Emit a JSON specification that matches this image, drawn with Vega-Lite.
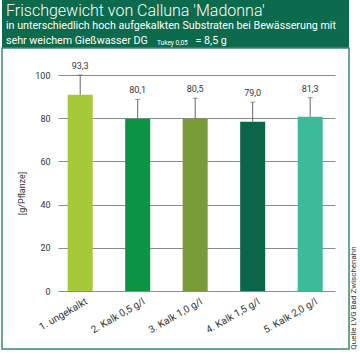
{
  "$schema": "https://vega.github.io/schema/vega-lite/v6.json",
  "padding": {"left": 1, "top": 0, "right": 0, "bottom": 0},
  "background": "white",
  "spacing": 0,
  "bounds": "flush",
  "config": {"font": "Roboto", "view": {"stroke": null}},
  "title": {
    "text": "Quelle LVG Bad Zwischenahn",
    "orient": "right",
    "anchor": "end",
    "align": "left",
    "baseline": "top",
    "angle": -90,
    "offset": -8,
    "fontSize": 8,
    "fontWeight": "normal",
    "color": "#333333"
  },
  "datasets": {
    "bars": [
      {"cat": "1. ungekalkt", "value": 90.8, "top": 100.0, "label": "93,3"},
      {"cat": "2. Kalk 0,5 g/l", "value": 79.8, "top": 88.7, "label": "80,1"},
      {"cat": "3. Kalk 1,0 g/l", "value": 79.8, "top": 89.2, "label": "80,5"},
      {"cat": "4. Kalk 1,5 g/l", "value": 78.4, "top": 87.4, "label": "79,0"},
      {"cat": "5. Kalk 2,0 g/l", "value": 80.7, "top": 89.5, "label": "81,3"}
    ]
  },
  "vconcat": [
    {
      "width": 347,
      "height": 48,
      "view": {"fill": "#0c6b4c", "stroke": null},
      "title": {
        "text": "Frischgewicht von Calluna 'Madonna'",
        "subtitle": [
          "in unterschiedlich hoch aufgekalkten Substraten bei Bewässerung mit",
          "sehr weichem Gießwasser DG\u00a0\u00a0\u00a0\u00a0\u00a0\u00a0\u00a0\u00a0\u00a0\u00a0\u00a0\u00a0\u00a0\u00a0\u00a0\u00a0\u00a0 = 8,5 g"
        ],
        "orient": "top",
        "anchor": "start",
        "frame": "group",
        "offset": -46,
        "dx": 4,
        "color": "white",
        "font": "Roboto",
        "fontSize": 16,
        "fontWeight": 300,
        "subtitleColor": "white",
        "subtitleFont": "Roboto",
        "subtitleFontSize": 10.7,
        "subtitlePadding": 2,
        "subtitleLineHeight": 15
      },
      "data": {"values": [{"t": ""}]},
      "mark": "text",
      "encoding": {"text": {"field": "t"}}
    },
    {
      "width": 347,
      "height": 301,
      "view": {"fill": "white", "stroke": "#3a8a68", "strokeWidth": 1.5},
      "title": {
        "text": "Tukey 0,05",
        "orient": "top",
        "anchor": "start",
        "frame": "group",
        "offset": 2,
        "dx": 155,
        "color": "white",
        "fontSize": 6.5,
        "fontWeight": "normal"
      },
      "data": {"name": "bars"},
      "encoding": {
        "x": {
          "field": "cat",
          "type": "nominal",
          "sort": null,
          "scale": {"paddingInner": 0.565, "paddingOuter": 0.8, "align": 0.714},
          "axis": {
            "title": null,
            "offset": -58,
            "domain": false,
            "ticks": false,
            "labelAngle": -30,
            "labelPadding": 5,
            "labelOffset": 4,
            "labelFontSize": 10,
            "labelColor": "#333333"
          }
        }
      },
      "layer": [
        {
          "mark": {"type": "rule", "color": "#666666", "strokeWidth": 1},
          "encoding": {
            "y": {"field": "value", "type": "quantitative"},
            "y2": {"field": "top"}
          }
        },
        {
          "mark": {"type": "tick", "color": "#666666", "thickness": 1, "size": 5},
          "encoding": {
            "y": {"field": "top", "type": "quantitative"}
          }
        },
        {
          "mark": {"type": "bar"},
          "encoding": {
            "y": {
              "field": "value",
              "type": "quantitative",
              "scale": {"domain": [-26.85, 112.5], "nice": false, "zero": false},
              "axis": {
                "orient": "left",
                "offset": -333,
                "values": [0, 10, 20, 30, 40, 50, 60, 70, 80, 90, 100],
                "tickSize": 277,
                "tickColor": "#8c8c8c",
                "tickWidth": 1,
                "domain": false,
                "grid": false,
                "labelPadding": 8,
                "labelFontSize": 9,
                "labelColor": "#333333",
                "title": "[g/Pflanze]",
                "titleFontSize": 9,
                "titleFontWeight": "normal",
                "titleColor": "#333333",
                "titleX": -314,
                "titleY": 145,
                "titleAngle": -90,
                "titleBaseline": "middle",
                "titleAlign": "center"
              }
            },
            "y2": {"datum": 0},
            "color": {
              "field": "cat",
              "type": "nominal",
              "sort": null,
              "scale": {"range": ["#a6c939", "#0a9444", "#789b38", "#0b6548", "#3dbb98"]},
              "legend": null
            }
          }
        },
        {
          "mark": {"type": "text", "baseline": "bottom", "dy": -4, "fontSize": 9, "color": "#333333"},
          "encoding": {
            "y": {"field": "top", "type": "quantitative"},
            "text": {"field": "label"}
          }
        }
      ]
    }
  ]
}
